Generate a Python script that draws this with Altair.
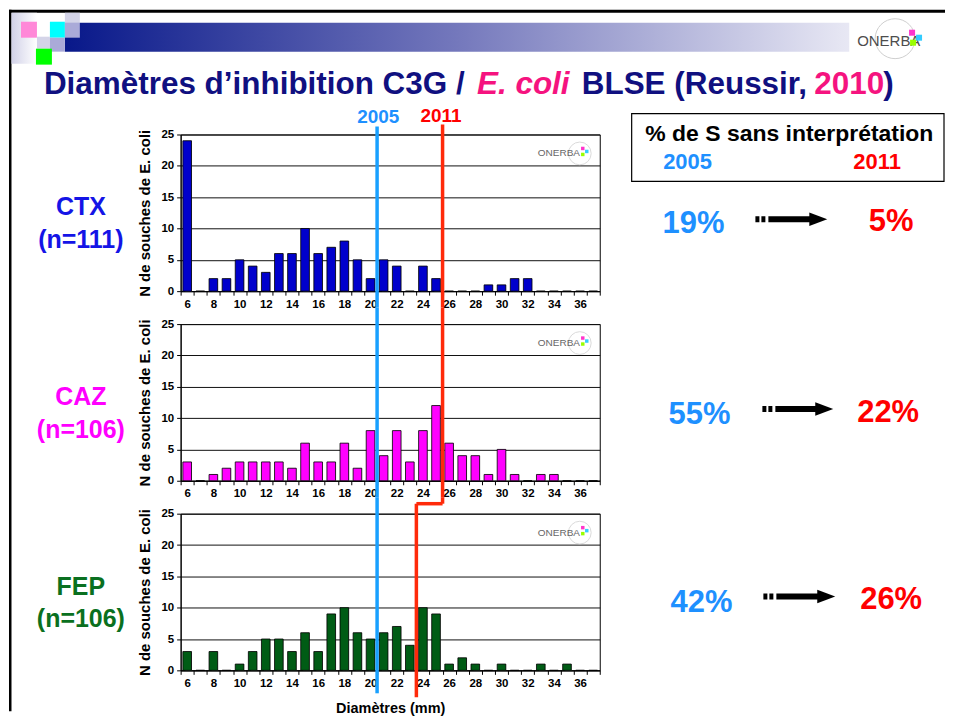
import altair as alt
import pandas as pd

# ---------------- data ----------------
DIAMETERS = [6, 7, 8, 9, 10, 11, 12, 13, 14, 15, 16, 17, 18, 19, 20, 21,
             22, 23, 24, 25, 26, 27, 28, 29, 30, 31, 32, 33, 34, 35, 36, 37]
CTX_COUNTS = [24, 0, 2, 2, 5, 4, 3, 6, 6, 10, 6, 7, 8, 5, 2, 5,
              4, 0, 4, 2, 0, 0, 0, 1, 1, 2, 2, 0, 0, 0, 0, 0]
CAZ_COUNTS = [3, 0, 1, 2, 3, 3, 3, 3, 2, 6, 3, 3, 6, 2, 8, 4,
              8, 3, 8, 12, 6, 4, 4, 1, 5, 1, 0, 1, 1, 0, 0, 0]
FEP_COUNTS = [3, 0, 3, 0, 1, 3, 5, 5, 3, 6, 3, 9, 10, 6, 5, 6,
              7, 4, 10, 9, 1, 2, 1, 0, 1, 0, 0, 1, 0, 1, 0, 0]
ANTIBIOTICS = ["CTX", "CAZ", "FEP"]
N_STRAINS = [111, 106, 106]
BREAK_2005 = [21, 21, 21]      # S >= value (mm)
BREAK_2011 = [26, 26, 24]
PCT_2005 = ["19%", "55%", "42%"]
PCT_2011 = ["5%", "22%", "26%"]
Y_TICKS = [0, 5, 10, 15, 20, 25]

FONT = "Liberation Sans"
W, H, GAP = 420, 157, 33
XDOM = [5.5, 37.5]
BAR_COLORS = ["#0000CC", "#FF00FF", "#005C15"]
LABEL_COLORS = ["#1414E6", "#FF00FF", "#0A7020"]
BLUE = "#1E90FF"
RED = "#FF0000"
LINE_BLUE = "#19A0FF"
LINE_RED = "#FF2A0A"
NAVY = "#101080"
PINK = "#F5137F"

ONE = pd.DataFrame({"k": [0]})
xscale = alt.Scale(domain=XDOM, nice=False, zero=False)
yscale = alt.Scale(domain=[0, 25], nice=False)


def make_xaxis(last):
    return alt.Axis(
        values=[v - 0.5 for v in DIAMETERS] + [DIAMETERS[-1] + 0.5],
        labelExpr="((datum.value + 0.5) % 2 == 0 && datum.value < 36.6) ? '' + (datum.value + 0.5) : ''",
        labelOffset=6.5625, labelFlush=False, labelOverlap=False, grid=False,
        tickSize=4, labelPadding=3, title="Diamètres (mm)" if last else "",
        titleFontSize=14.5, titlePadding=13)


YAXIS = alt.Axis(values=Y_TICKS, title="N de souches de E. coli", tickSize=4,
                 labelPadding=3, titlePadding=8, titleFontSize=15, grid=True)


def text(t, x, y, size, color="black", align="left", weight="bold", style="normal", font=FONT):
    return alt.Chart(ONE).mark_text(
        text=t, align=align, baseline="alphabetic", fontSize=size, fontWeight=weight,
        fontStyle=style, font=font, color=color
    ).encode(x=alt.value(x), y=alt.value(y))


def rect(x, x2, y, y2, fill, stroke=None, sw=0, opacity=1):
    kw = dict(fill=fill, opacity=opacity)
    if stroke:
        kw.update(stroke=stroke, strokeWidth=sw)
    return alt.Chart(ONE).mark_rect(**kw).encode(
        x=alt.value(x), x2=alt.value(x2), y=alt.value(y), y2=alt.value(y2))


def hline(x, x2, y, color, width, dash=None):
    kw = dict(color=color, strokeWidth=width)
    if dash:
        kw["strokeDash"] = dash
    return alt.Chart(ONE).mark_rule(**kw).encode(
        x=alt.value(x), x2=alt.value(x2), y=alt.value(y))


def bp_vline(value, y, y2, color, xaxis):
    df = pd.DataFrame({"bp": [value - 0.5]})
    return alt.Chart(df).mark_rule(color=color, strokeWidth=3.5).encode(
        x=alt.X("bp:Q", scale=xscale, axis=xaxis), y=alt.value(y), y2=alt.value(y2))


def bp_hline(a, b, y, color, xaxis):
    df = pd.DataFrame({"a": [a - 0.5], "b": [b - 0.5]})
    return alt.Chart(df).mark_rule(color=color, strokeWidth=3.5).encode(
        x=alt.X("a:Q", scale=xscale, axis=xaxis), x2="b:Q", y=alt.value(y))


def arrow(x0, x1, y):
    head = alt.Chart(ONE).mark_point(
        shape="M-1,-0.75L1,0L-1,0.75Z", filled=True, color="black", size=324, opacity=1
    ).encode(x=alt.value(x1 - 9), y=alt.value(y))
    return [hline(x0, x0 + 12, y, "black", 6, dash=[4, 2]),
            hline(x0 + 13, x1 - 16, y, "black", 6), head]


def logo_small(x, y):
    ring = alt.Chart(ONE).mark_point(shape="circle", size=520, color="#cccccc",
                                     strokeWidth=1, filled=False).encode(
        x=alt.value(x + 42), y=alt.value(y - 3))
    sq = []
    for dx, dy, c in [(45, -8, "#FF33CC"), (49, -5, "#33CCFF"), (45, -2, "#99FF00")]:
        sq.append(alt.Chart(ONE).mark_square(size=12, color=c, opacity=1).encode(
            x=alt.value(x + dx), y=alt.value(y + dy)))
    return [ring, text("ONERBA", x, y, 10, "#666666", weight="normal")] + sq


def header_layers():
    L = []
    # invisible extent marker (page 8,8 -> 946,...): total width 938 = page width - margins
    L.append(rect(-172, 766, -125, 578, "white", opacity=0))
    # slide borders (as filled rects so that bounds are exact)
    L.append(rect(-172, 766, -125, -122, "black"))
    L.append(rect(-172, -169.5, -125, 578, "black"))
    # light gradient at top-left
    L.append(rect(-169.5, -144, -122, -71, {
        "gradient": "linear", "x1": 0, "x2": 1, "y1": 0, "y2": 0,
        "stops": [{"offset": 0, "color": "#D2D2E8"}, {"offset": 1, "color": "#FFFFFF"}]}))
    # header gradient bar
    L.append(rect(-116, 670, -112, -83, {
        "gradient": "linear", "x1": 0, "x2": 1, "y1": 0, "y2": 0,
        "stops": [{"offset": 0, "color": "#08188A"}, {"offset": 0.5, "color": "#7478BC"},
                  {"offset": 1, "color": "#E8E8F4"}]}))
    # decorative squares
    for (x, x2, y, y2, c) in [(-160, -144, -113, -97, "#FF88D8"),
                              (-131, -116, -113, -97, "#00FFFF"),
                              (-116, -101, -122, -112, "#D4D4E8"),
                              (-116, -101, -112, -97, "#AAAAD8"),
                              (-144, -131, -98, -86, "#D4D4E8"),
                              (-131, -116, -97, -83, "#AAAAD8"),
                              (-145, -129, -86, -70, "#00FF00")]:
        L.append(rect(x, x2, y, y2, c))
    # top-right logo
    L.append(alt.Chart(ONE).mark_point(shape="circle", size=1600, color="#bbbbbb",
                                       filled=False, strokeWidth=1).encode(
        x=alt.value(716), y=alt.value(-96)))
    L.append(text("ONERBA", 678, -89, 15, "#4D4D4D", weight="normal"))
    for dx, dy, c in [(733, -102, "#FF33CC"), (740, -97, "#33CCFF"), (734, -92, "#99FF00")]:
        L.append(alt.Chart(ONE).mark_square(size=36, color=c, opacity=1).encode(
            x=alt.value(dx), y=alt.value(dy)))
    # title
    L.append(text("Diamètres d’inhibition C3G /", -137, -41, 31.5, NAVY))
    L.append(text("E. coli", 297, -41, 31.5, PINK, style="italic"))
    L.append(text("BLSE (Reussir,", 402, -41, 31.5, NAVY))
    L.append(text("2010", 635, -41, 31.5, PINK))
    L.append(text(")", 704, -41, 31.5, NAVY))
    # line labels
    L.append(text("2005", 198, -12, 19, BLUE, align="center"))
    L.append(text("2011", 261, -13, 19, RED, align="center"))
    # right box
    L.append(rect(452, 765, -21, 47, "white", stroke="black", sw=1.2))
    L.append(text("% de S sans interprétation", 610, 7, 23, "black", align="center"))
    L.append(text("2005", 508, 35, 22, BLUE, align="center"))
    L.append(text("2011", 698, 35, 22, RED, align="center"))
    return L


def panel(i, counts, first=False, last=False):
    xaxis = make_xaxis(last)
    df = pd.DataFrame({"d": DIAMETERS, "n": counts})
    base = alt.Chart(df).transform_calculate(
        lo="datum.d - 0.33", hi="datum.d + 0.33")
    shadow = base.mark_rect(color="#8c8c8c", xOffset=2.5).encode(
        x=alt.X("lo:Q", scale=xscale, axis=xaxis), x2="hi:Q",
        y=alt.Y("n:Q", scale=yscale, axis=YAXIS))
    bars = base.mark_rect(color=BAR_COLORS[i], stroke="black", strokeWidth=0.8).encode(
        x=alt.X("lo:Q", scale=xscale, axis=xaxis), x2="hi:Q",
        y=alt.Y("n:Q", scale=yscale, axis=YAXIS))
    layers = []
    if first:
        layers += header_layers()
    layers += [shadow, bars]
    layers += logo_small(358, 22)
    # breakpoint lines
    if i == 0:
        layers.append(bp_vline(BREAK_2005[i], -8, H + GAP / 2, LINE_BLUE, xaxis))
        layers.append(bp_vline(BREAK_2011[i], -10, H + GAP / 2, LINE_RED, xaxis))
    elif i == 1:
        layers.append(bp_vline(BREAK_2005[i], -GAP / 2, H + GAP / 2, LINE_BLUE, xaxis))
        layers.append(bp_vline(BREAK_2011[i], -GAP / 2, H + GAP / 2, LINE_RED, xaxis))
    else:
        layers.append(bp_vline(BREAK_2005[i], -GAP / 2, 180, LINE_BLUE, xaxis))
        layers.append(bp_vline(BREAK_2011[i - 1], -GAP / 2, -10, LINE_RED, xaxis))
        layers.append(bp_hline(BREAK_2011[i], BREAK_2011[i - 1], -10, LINE_RED, xaxis))
        layers.append(bp_vline(BREAK_2011[i], -10, 184, LINE_RED, xaxis))
    # left labels
    layers.append(text(ANTIBIOTICS[i], -100, 81, 25, LABEL_COLORS[i], align="center"))
    layers.append(text(f"(n={N_STRAINS[i]})", -100, 114, 25, LABEL_COLORS[i], align="center"))
    # percentages
    pos = [(514, 99, 712, 97, 576, 648, 85),
           (520, 100, 709, 98, 583, 654, 85),
           (522, 99, 712, 96, 584, 656, 83)][i]
    layers.append(text(PCT_2005[i], pos[0], pos[1], 31, BLUE, align="center"))
    layers.append(text(PCT_2011[i], pos[2], pos[3], 31, RED, align="center"))
    layers += arrow(pos[4], pos[5], pos[6])
    return alt.layer(*layers).properties(width=W, height=H)


charts = [panel(0, CTX_COUNTS, first=True), panel(1, CAZ_COUNTS), panel(2, FEP_COUNTS, last=True)]

chart = alt.vconcat(*charts, spacing=GAP, bounds="flush").properties(
    padding=0, background="white"
).configure_view(stroke="black", strokeWidth=1).configure_axis(
    labelFont=FONT, labelFontWeight="bold", labelFontSize=11.5, labelColor="black",
    titleFont=FONT, titleFontWeight="bold", titleColor="black",
    domainColor="black", tickColor="black", gridColor="#111111", gridWidth=1
)

chart.save("out.html", embed_options={"renderer": "svg", "actions": False})
